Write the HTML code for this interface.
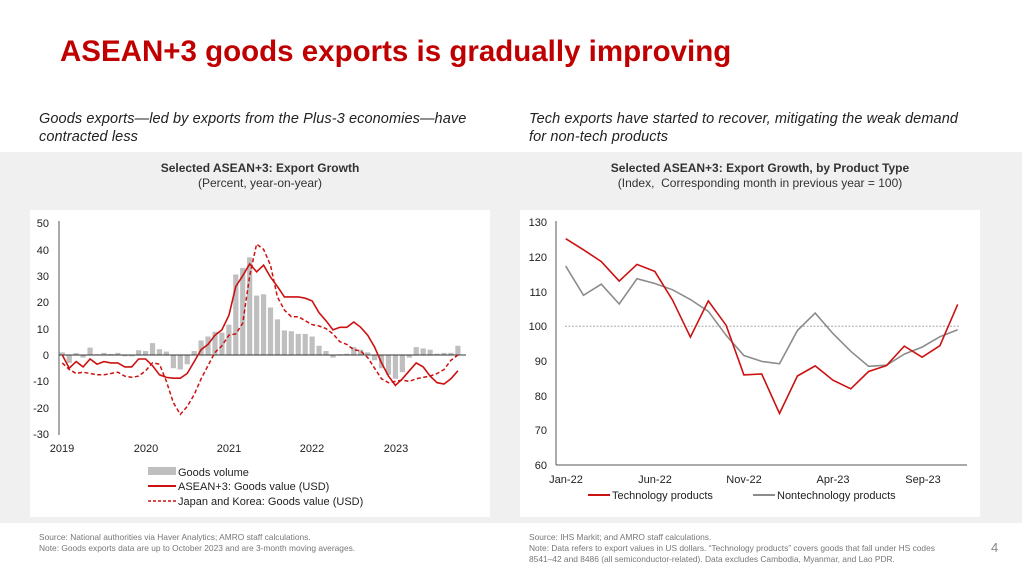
<!DOCTYPE html>
<html><head><meta charset="utf-8">
<style>
*{margin:0;padding:0}
body{width:1024px;height:576px;background:#fff;position:relative;overflow:hidden;font-family:"Liberation Sans",Arial,sans-serif}
.a{position:absolute;white-space:nowrap}
</style></head><body>
<div class="a" style="left:60px;top:35px;font-size:29.5px;font-weight:bold;color:#c00000">ASEAN+3 goods exports is gradually improving</div>
<div class="a" style="left:39px;top:110px;font-size:14.5px;font-style:italic;color:#222;line-height:18px;letter-spacing:0.1px">Goods exports—led by exports from the Plus-3 economies—have<br>contracted less</div>
<div class="a" style="left:529px;top:110px;font-size:14.5px;font-style:italic;color:#222;line-height:18px;letter-spacing:0.1px">Tech exports have started to recover, mitigating the weak demand<br>for non-tech products</div>
<div class="a" style="left:0;top:152px;width:1022px;height:371px;background:#f0f0f0"></div>
<div class="a" style="left:30px;top:210px;width:460px;height:307px;background:#fff"></div>
<div class="a" style="left:520px;top:210px;width:460px;height:307px;background:#fff"></div>
<div class="a" style="left:0;width:520px;top:161px;text-align:center;font-size:12px;color:#333;line-height:15px"><b>Selected ASEAN+3: Export Growth</b><br>(Percent, year-on-year)</div>
<div class="a" style="left:510px;width:500px;top:161px;text-align:center;font-size:12px;color:#333;line-height:15px"><b>Selected ASEAN+3: Export Growth, by Product Type</b><br>(Index,&nbsp; Corresponding month in previous year = 100)</div>
<svg class="a" style="left:0;top:0" width="1024" height="576" font-family="Liberation Sans, Arial, sans-serif" font-size="11" fill="#222">
<g id="L"></g>
<g id="R"></g>
<g text-anchor="end">
<text x="49" y="227">50</text><text x="49" y="254">40</text><text x="49" y="280">30</text><text x="49" y="306">20</text><text x="49" y="333">10</text><text x="49" y="359">0</text><text x="49" y="385">-10</text><text x="49" y="412">-20</text><text x="49" y="438">-30</text>
<text x="547" y="226">130</text><text x="547" y="261">120</text><text x="547" y="296">110</text><text x="547" y="330">100</text><text x="547" y="365">90</text><text x="547" y="400">80</text><text x="547" y="434">70</text><text x="547" y="469">60</text>
</g>
<g text-anchor="middle">
<text x="62" y="452">2019</text><text x="146" y="452">2020</text><text x="229" y="452">2021</text><text x="312" y="452">2022</text><text x="396" y="452">2023</text>
<text x="566" y="483">Jan-22</text><text x="655" y="483">Jun-22</text><text x="744" y="483">Nov-22</text><text x="833" y="483">Apr-23</text><text x="923" y="483">Sep-23</text>
</g>
<rect x="148" y="467" width="28" height="8" fill="#bfbfbf"/><text x="178" y="476">Goods volume</text>
<line x1="148" y1="486" x2="176" y2="486" stroke="#cc1111" stroke-width="2"/><text x="178" y="490">ASEAN+3: Goods value (USD)</text>
<line x1="148" y1="501" x2="176" y2="501" stroke="#cc1111" stroke-width="1.5" stroke-dasharray="3,2"/><text x="178" y="505">Japan and Korea: Goods value (USD)</text>
<line x1="588" y1="495" x2="610" y2="495" stroke="#cc1111" stroke-width="2"/><text x="612" y="499">Technology products</text>
<line x1="753" y1="495" x2="775" y2="495" stroke="#8c8c8c" stroke-width="2"/><text x="777" y="499">Nontechnology products</text>
</svg>
<div class="a" style="left:39px;top:532px;font-size:8.4px;color:#777;line-height:11px">Source: National authorities via Haver Analytics; AMRO staff calculations.<br>Note: Goods exports data are up to October 2023 and are 3-month moving averages.</div>
<div class="a" style="left:529px;top:532px;font-size:8.4px;color:#777;line-height:11px">Source: IHS Markit; and AMRO staff calculations.<br>Note: Data refers to export values in US dollars. “Technology products” covers goods that fall under HS codes<br>8541–42 and 8486 (all semiconductor-related). Data excludes Cambodia, Myanmar, and Lao PDR.</div>
<div class="a" style="left:991px;top:540px;font-size:13px;color:#888">4</div>
<script>
var NS="http://www.w3.org/2000/svg";
function el(g,t,a){var e=document.createElementNS(NS,t);for(var k in a)e.setAttribute(k,a[k]);g.appendChild(e);return e;}
var L=document.getElementById("L"),R=document.getElementById("R");
var x0=62.3,dx=6.94,y0=355,sy=2.64;
var bars=[1,-3,0.7,-1,2.8,0.3,0.8,0.4,0.8,-0.5,-0.5,1.8,1.5,4.5,2.2,1.3,-5,-5.5,-3.5,1.5,5.5,7,8.8,8.5,11.5,30.5,33,37,22.5,23,18,13.5,9.3,9,8,8,7,3.5,1.5,-1,0.3,0.5,3,2,1,-2,-5,-7.5,-9,-6.5,-1,3,2.5,2,0.5,0.8,0.8,3.5];
var sol=[0,-5,-2.5,-4.5,-1.5,-3.5,-2.5,-3,-3,-4.5,-4.5,-1.5,-1.5,-4,-7.5,-8.5,-8.8,-8.8,-7,-2.5,2,4,7.5,9.5,15,26,30,34.5,31.5,34,29.5,26,22,22,22,21.5,20.5,16,13,9.5,10.5,10.5,12.5,10.5,7.5,3,-3,-8,-11.5,-9,-6,-3,-4.5,-8,-10.5,-11,-9,-6];
var das=[-3,-5.5,-7,-6.5,-7,-7.5,-7.5,-7,-6.5,-8,-8.5,-8,-6,-3,-3.5,-10,-18,-22.5,-19.5,-15,-9,-4,1,3.5,7.5,8,12,30,42,40,34,22,17,14.5,14.5,13,11.5,11,10,8,5,4,2,1.5,-1,-5,-9,-10.5,-10,-9.5,-10,-9,-8.5,-8,-7,-5.5,-2,0];
bars.forEach(function(v,i){var y=y0-v*sy;el(L,"rect",{x:x0+i*dx-2.6,y:Math.min(y,y0),width:5.2,height:Math.abs(v*sy),fill:"#bfbfbf"});});
el(L,"line",{x1:59,y1:221,x2:59,y2:435,stroke:"#555","stroke-width":1});
el(L,"line",{x1:59,y1:y0,x2:466,y2:y0,stroke:"#333","stroke-width":1});
function pts(a,X,D,Y,S){return a.map(function(v,i){return (X+i*D).toFixed(1)+","+(Y-v*S).toFixed(1)}).join(" ");}
el(L,"polyline",{points:pts(das,x0,dx,y0,sy),fill:"none",stroke:"#cc1111","stroke-width":1.5,"stroke-dasharray":"4,2.5"});
el(L,"polyline",{points:pts(sol,x0,dx,y0,sy),fill:"none",stroke:"#cc1111","stroke-width":1.6});
var rx=565.7,rd=17.82,ry=222,rs=3.476;
var tech=[125.2,122,118.6,113,117.8,115.8,107.5,96.9,107.3,100.3,86,86.3,74.9,85.7,88.6,84.5,82,87,88.7,94.3,91.1,94.4,106.3];
var non=[117.3,108.9,112.1,106.4,113.7,112.3,110.5,107.7,104.3,97.4,91.6,89.9,89.2,98.8,103.8,97.9,92.8,88.5,88.8,92,94,97,99];
function rp(a){return a.map(function(v,i){return (rx+i*rd).toFixed(1)+","+(ry+(130-v)*rs).toFixed(1)}).join(" ");}
el(R,"line",{x1:565,y1:ry+30*rs,x2:959,y2:ry+30*rs,stroke:"#aaa","stroke-width":1,"stroke-dasharray":"2,1.5"});
el(R,"line",{x1:556,y1:221,x2:556,y2:465,stroke:"#555","stroke-width":1});
el(R,"line",{x1:556,y1:465,x2:967,y2:465,stroke:"#555","stroke-width":1});
el(R,"polyline",{points:rp(non),fill:"none",stroke:"#8c8c8c","stroke-width":1.6});
el(R,"polyline",{points:rp(tech),fill:"none",stroke:"#cc1111","stroke-width":1.6});
</script>
</body></html>
